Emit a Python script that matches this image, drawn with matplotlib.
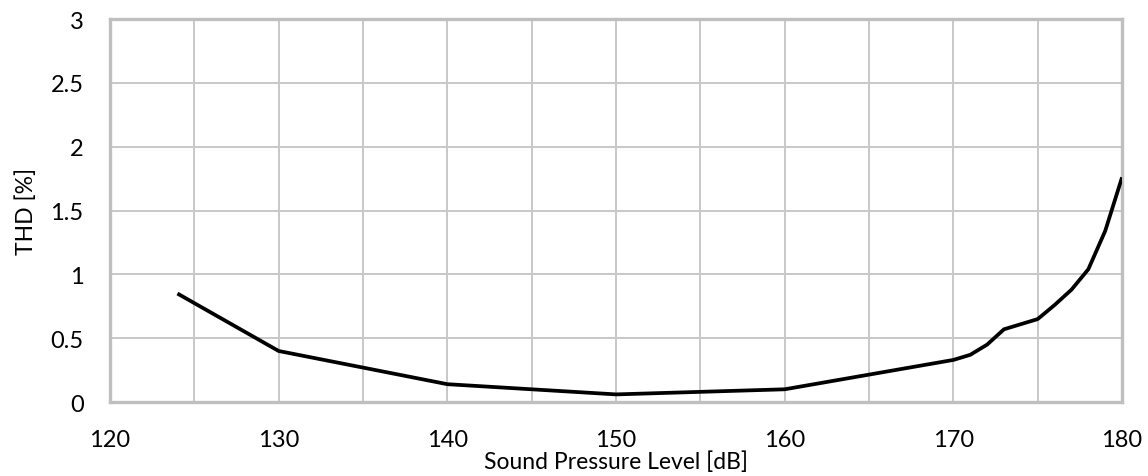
import matplotlib
matplotlib.use('Agg')
import matplotlib.pyplot as plt

# data
spl = [124, 130, 140, 150, 160, 170, 171, 172, 173, 175, 176, 177, 178, 179, 180]
thd = [0.85, 0.40, 0.14, 0.06, 0.10, 0.33, 0.37, 0.45, 0.57, 0.65, 0.76, 0.88, 1.04, 1.34, 1.76]

x_ticks = [120, 130, 140, 150, 160, 170, 180]
y_ticks = [0, 0.5, 1, 1.5, 2, 2.5, 3]
y_ticklabels = ['0', '0.5', '1', '1.5', '2', '2.5', '3']

plt.rcParams['font.family'] = ['Lato', 'DejaVu Sans']

fig = plt.figure(figsize=(11.48, 4.77), dpi=100, facecolor='white')
ax = fig.add_axes([0.0958, 0.155, 0.8816, 0.803])

ax.plot(spl, thd, color='black', linewidth=2.7, solid_joinstyle='round',
        solid_capstyle='butt', zorder=3)

ax.set_xlim(120, 180)
ax.set_ylim(0, 3)
# grid every 5 dB, labels every 10 dB
ax.set_xticks(range(120, 181, 5))
ax.set_xticklabels([str(t) if t in x_ticks else '' for t in range(120, 181, 5)],
                   fontsize=17)
ax.set_yticks(y_ticks)
ax.set_yticklabels(y_ticklabels, fontsize=17)
ax.tick_params(axis='both', length=0, colors='black')
ax.tick_params(axis='x', pad=19.5)
ax.tick_params(axis='y', pad=19)

ax.grid(True, color='#c8c8c8', linewidth=1.4, zorder=0)
ax.set_axisbelow(True)
for s in ax.spines.values():
    s.set_color('#bfbfbf')
    s.set_linewidth(2.4)

ax.set_xlabel('Sound Pressure Level [dB]', fontsize=16.5, labelpad=0)
ax.set_ylabel('THD [%]', fontsize=16.5, labelpad=10)

plt.savefig('out.png', dpi=100, facecolor='white')
